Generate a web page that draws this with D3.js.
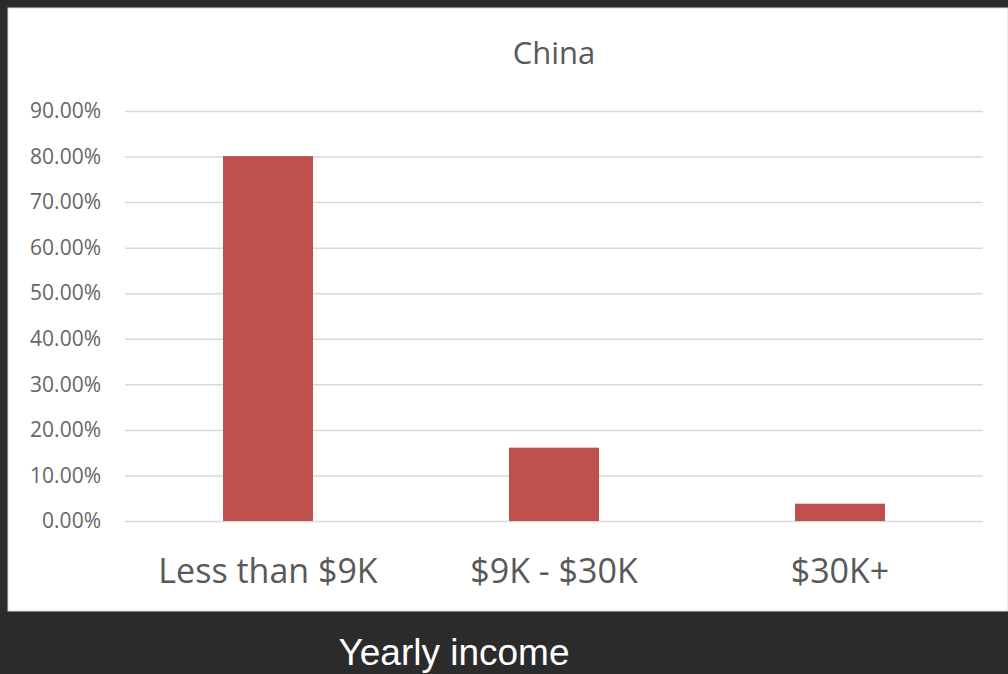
<!DOCTYPE html>
<html>
<head>
<meta charset="utf-8">
<script src="https://cdn.jsdelivr.net/npm/d3@7"></script>
<style>
  html, body { margin: 0; padding: 0; background: #2b2b2b; }
  svg { display: block; }
</style>
</head>
<body>
<div id="chart"></div>
<script>
"use strict";

var categories = ["Less than $9K", "$9K - $30K", "$30K+"];
var shares = [80.1, 16.1, 3.8]; /* percent */
var yTicks = [0, 10, 20, 30, 40, 50, 60, 70, 80, 90];

var W = 1008, H = 674;

var svg = d3.select("#chart").append("svg")
  .attr("width", W)
  .attr("height", H);

svg.append("rect")
  .attr("width", W).attr("height", H)
  .attr("fill", "#2b2b2b");

// white chart panel
svg.append("rect")
  .attr("x", 8).attr("y", 8)
  .attr("width", W - 8).attr("height", 603)
  .attr("fill", "#ffffff")
  .attr("stroke", "#d9d9d9")
  .attr("stroke-width", 1);

var margin = {left: 125, right: 25, top: 111, bottom: 153};
var width = W - margin.left - margin.right,
    height = H - margin.top - margin.bottom;

var gap = 1 - 90 / 286;
var x = d3.scaleBand().domain(categories).range([0, width])
  .paddingInner(gap).paddingOuter(gap / 2);
var y = d3.scaleLinear().domain([0, 90]).range([height, 0]);

var g = svg.append("g")
  .attr("transform", "translate(" + margin.left + "," + margin.top + ")");

var yAxis = d3.axisLeft(y)
  .tickValues(yTicks)
  .tickSize(-width)
  .tickPadding(24)
  .tickFormat(function(d) { return d3.format(".2f")(d) + "%"; });

g.append("g").attr("class", "y axis").call(yAxis)
  .call(function(s) {
    s.select(".domain").remove();
    s.selectAll(".tick line").attr("stroke", "#d9d9d9").attr("stroke-width", 1.5);
    s.selectAll(".tick text")
      .attr("fill", "#666666")
      .style("font-family", "'Open Sans', sans-serif")
      .style("font-size", "21px");
  });

g.selectAll(".bar")
  .data(shares)
  .enter().append("rect")
  .attr("class", "bar")
  .attr("x", function(d, i) { return x(categories[i]); })
  .attr("width", x.bandwidth())
  .attr("y", function(d) { return y(d); })
  .attr("height", function(d) { return height - y(d); })
  .attr("fill", "#c0504d");

var xAxis = d3.axisBottom(x).tickSize(0).tickPadding(38);

g.append("g").attr("class", "x axis")
  .attr("transform", "translate(0," + height + ")")
  .call(xAxis)
  .call(function(s) {
    s.select(".domain").remove();
    s.selectAll(".tick text")
      .attr("fill", "#595959")
      .style("font-family", "'Open Sans', sans-serif")
      .style("font-size", "34px");
  });

svg.append("text")
  .attr("x", margin.left + width / 2)
  .attr("y", 64)
  .attr("text-anchor", "middle")
  .attr("fill", "#595959")
  .style("font-family", "'Open Sans', sans-serif")
  .style("font-size", "31px")
  .text("China");

svg.append("text")
  .attr("x", 454)
  .attr("y", 665)
  .attr("text-anchor", "middle")
  .attr("fill", "#ffffff")
  .style("font-family", "'Liberation Sans', Arial, sans-serif")
  .style("font-size", "37px")
  .text("Yearly income");
</script>
</body>
</html>
